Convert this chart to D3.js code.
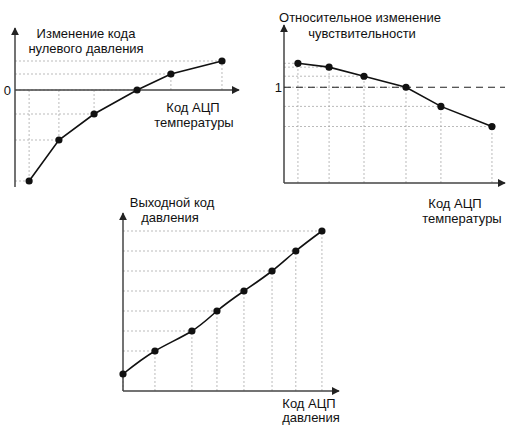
<!DOCTYPE html>
<html>
<head>
<meta charset="utf-8">
<script src="https://cdn.jsdelivr.net/npm/d3@7"></script>
<style>
  body { margin: 0; background: #fff; }
  text { font-family: "Liberation Sans", Arial, sans-serif; font-size: 13px; fill: #111; }
</style>
</head>
<body>
<div id="chart"></div>
<script>
// chart 1: zero pressure code change vs temperature ADC code
var zeroX = [0.63, 1.96, 3.53, 5.45, 6.96, 9.24];
var zeroY = [-9.1, -5.0, -2.4, 0, 1.6, 2.9];
// chart 2: relative sensitivity change vs temperature ADC code
var sensX = [0.63, 2.04, 3.62, 5.52, 7.1, 9.41];
var sensY = [1.25, 1.21, 1.115, 1, 0.8, 0.59];
// chart 3: output pressure code vs pressure ADC code
var outX = [0, 1.48, 3.19, 4.35, 5.6, 6.9, 8.0, 9.21];
var outY = [0.85, 2, 3, 4, 5, 6, 7, 8];

var titles = {
    zero: ["Изменение кода", "нулевого давления"],
    sens: ["Относительное изменение", "чувствительности"],
    out: ["Выходной код", "давления"]
};
var xLabelTemp = ["Код АЦП", "температуры"];
var xLabelPress = ["Код АЦП", "давления"];

var svg = d3.select("#chart").append("svg")
    .attr("width", 506).attr("height", 425);

svg.append("defs").append("marker")
    .attr("id", "arrow")
    .attr("viewBox", "0 0 10 10")
    .attr("refX", 9).attr("refY", 5)
    .attr("markerWidth", 8).attr("markerHeight", 8)
    .attr("markerUnits", "userSpaceOnUse")
    .attr("orient", "auto")
    .append("path")
    .attr("d", "M0,0 L10,5 L0,10 z")
    .attr("fill", "#222");

var grid = function(g, x1, y1, x2, y2) {
    g.append("line")
        .attr("x1", x1).attr("y1", y1).attr("x2", x2).attr("y2", y2)
        .attr("stroke", "#aaa").attr("stroke-width", 0.8)
        .attr("stroke-dasharray", "2,2");
};

var axisLine = function(g, x1, y1, x2, y2, arrow) {
    var l = g.append("line")
        .attr("x1", x1).attr("y1", y1).attr("x2", x2).attr("y2", y2)
        .attr("stroke", "#444").attr("stroke-width", 1.5);
    if (arrow) l.attr("marker-end", "url(#arrow)");
};

var label = function(g, lines, x, y, anchor) {
    lines.forEach(function(s, i) {
        g.append("text")
            .attr("x", x[i]).attr("y", y[i])
            .attr("text-anchor", anchor || "middle")
            .text(s);
    });
};

var drawSeries = function(g, xs, ys, x, y, curve) {
    var pts = xs.map(function(d, i) { return [x(d), y(ys[i])]; });
    g.append("path")
        .attr("d", d3.line().curve(curve)(pts))
        .attr("fill", "none").attr("stroke", "#111").attr("stroke-width", 1.6);
    g.selectAll("circle.pt").data(pts).enter().append("circle")
        .attr("class", "pt")
        .attr("cx", function(d) { return d[0]; })
        .attr("cy", function(d) { return d[1]; })
        .attr("r", 3.6).attr("fill", "#111");
};

// ---- chart 1
(function() {
    var g = svg.append("g");
    var x = d3.scaleLinear().domain([0, 10]).range([15, 239]);
    var y = d3.scaleLinear().domain([-9.7, 0, 6.2]).range([187, 90, 28]);
    zeroX.forEach(function(d, i) {
        grid(g, x(0), y(zeroY[i]), x(d), y(zeroY[i]));
        grid(g, x(d), y(0), x(d), y(zeroY[i]));
    });
    axisLine(g, x(0), y(-9.7), x(0), y(6.2), true);
    axisLine(g, x(0), y(0), x(10), y(0), true);
    g.append("text").attr("x", 11).attr("y", y(0) + 5).attr("text-anchor", "end").text("0");
    drawSeries(g, zeroX, zeroY, x, y, d3.curveLinear);
    label(g, titles.zero, [86, 86], [38, 53]);
    label(g, xLabelTemp, [193, 194], [112, 127]);
})();

// ---- chart 2
(function() {
    var g = svg.append("g");
    var x = d3.scaleLinear().domain([0, 10]).range([284, 505]);
    var y = d3.scaleLinear().domain([0, 1.65]).range([183, 25]);
    sensX.forEach(function(d, i) {
        grid(g, x(0), y(sensY[i]), x(d), y(sensY[i]));
        grid(g, x(d), y(0), x(d), y(sensY[i]));
    });
    axisLine(g, x(0), y(0), x(0), y(1.65), true);
    axisLine(g, x(0), y(0), x(10), y(0), true);
    g.append("line")
        .attr("x1", x(0)).attr("x2", x(10)).attr("y1", y(1)).attr("y2", y(1))
        .attr("stroke", "#222").attr("stroke-width", 1.2).attr("stroke-dasharray", "7,5");
    g.append("text").attr("x", 282).attr("y", y(1) + 5).attr("text-anchor", "end").text("1");
    drawSeries(g, sensX, sensY, x, y, d3.curveLinear);
    label(g, titles.sens, [360, 362], [22, 38]);
    label(g, xLabelTemp, [455, 462], [208, 223]);
})();

// ---- chart 3
(function() {
    var g = svg.append("g");
    var x = d3.scaleLinear().domain([0, 10]).range([123, 339]);
    var y = d3.scaleLinear().domain([0, 8.9]).range([391, 213]);
    outX.forEach(function(d, i) {
        grid(g, x(0), y(outY[i]), x(d), y(outY[i]));
        grid(g, x(d), y(0), x(d), y(outY[i]));
    });
    axisLine(g, x(0), y(0), x(0), y(8.9), true);
    axisLine(g, x(0), y(0), x(10), y(0), true);
    drawSeries(g, outX, outY, x, y, d3.curveNatural);
    label(g, titles.out, [172, 170], [207, 222]);
    label(g, xLabelPress, [309, 311], [408, 422]);
})();
</script>
</body>
</html>
